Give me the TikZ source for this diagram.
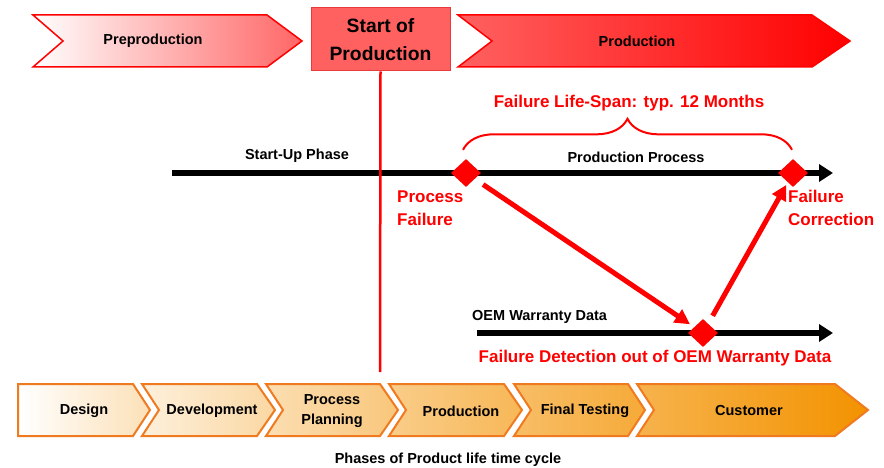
\documentclass[tikz,border=0pt]{standalone}
\usepackage{fontspec}
\setmainfont{Liberation Sans}
\usetikzlibrary{arrows.meta, shapes.geometric, decorations.pathreplacing, positioning}

\definecolor{failred}{RGB}{255,0,0}
\definecolor{sopred}{RGB}{255,96,96}
\definecolor{sopline}{RGB}{232,58,58}
\definecolor{phaseorange}{RGB}{243,146,0}
\definecolor{phaseline}{RGB}{240,122,32}

\tikzset{
  blacktext/.style={font=\bfseries\fontsize{14.5}{20}\selectfont, text=black, inner sep=0pt, align=center},
  redtext/.style={font=\bfseries\fontsize{17}{23}\selectfont, text=failred, inner sep=0pt, align=left},
  event/.style={diamond, fill=failred, inner sep=0pt, minimum width=30pt, minimum height=28pt},
  timeline/.style={line width=6pt, -{Triangle[length=14pt,width=17pt]}},
  failarrow/.style={failred, line width=5pt, -{Triangle[length=15pt,width=15pt]}},
  topphase/.style={draw=failred, line width=1.5pt},
  lowphase/.style={draw=phaseline, line width=2pt},
}

\begin{document}
\begin{tikzpicture}[x=1pt, y=-1pt]
    \useasboundingbox (0,0) rectangle (884,468);

    % upper phases
    \path[topphase, left color=white, right color=failred!60]
    (33,15) -- (267,15) -- (302,41) -- (267,67) -- (33,67) -- (63,41) -- cycle;
    \path[topphase, left color=failred!62, right color=failred]
    (458,15) -- (812,15) -- (850,41) -- (812,67) -- (458,67) -- (492,41) -- cycle;
    \node[blacktext] (prepro) at (153,41) {Preproduction};
    \node[blacktext] (prod) at (637,41) {Production};
    \node[draw=sopline, fill=sopred, line width=1pt, minimum width=139pt, minimum height=63pt,
      align=center, font=\bfseries\fontsize{19.3}{28}\selectfont] (sop) at (380.5,39.5) {Start of\\Production};

    % lower phases
    \path[lowphase, left color=white, right color=phaseorange!28]
    (18,384) -- (133,384) -- (150,410) -- (133,436) -- (18,436) -- cycle;
    \path[lowphase, left color=phaseorange!14, right color=phaseorange!36]
    (142,384) -- (257,384) -- (275,410) -- (257,436) -- (142,436) -- (159,410) -- cycle;
    \path[lowphase, left color=phaseorange!30, right color=phaseorange!52]
    (266,384) -- (380,384) -- (398,410) -- (380,436) -- (266,436) -- (283,410) -- cycle;
    \path[lowphase, left color=phaseorange!46, right color=phaseorange!66]
    (389,384) -- (504,384) -- (522,410) -- (504,436) -- (389,436) -- (406,410) -- cycle;
    \path[lowphase, left color=phaseorange!60, right color=phaseorange!78]
    (514,384) -- (628,384) -- (645,410) -- (628,436) -- (514,436) -- (531,410) -- cycle;
    \path[lowphase, left color=phaseorange!70, right color=phaseorange]
    (637,384) -- (835,384) -- (868,410) -- (835,436) -- (637,436) -- (654,410) -- cycle;
    \node[blacktext] (design) at (84,411) {Design};
    \node[blacktext] (devel) at (212,411) {Development};
    \node[blacktext] (planning) at (332,411) {Process\\Planning};
    \node[blacktext] (lowprod) at (461,411) {Production};
    \node[blacktext] (testing) at (585,411) {Final Testing};
    \node[blacktext] (customer) at (749,411) {Customer};
    \node[blacktext] (phases) at (448,460) {Phases of Product life time cycle};

    % time lines
    \coordinate (upstart) at (172,173);
    \coordinate (upend) at (833,173);
    \coordinate (oemstart) at (477,333);
    \coordinate (oemend) at (833,333);
    \coordinate (sopend) at (380,372);
    \draw[timeline] (upstart) -- (upend);
    \draw[timeline] (oemstart) -- (oemend);
    \draw[failred, line width=2.5pt] (sop.south) -- (sopend);

    \node[event] (pf) at (466,173) {};
    \node[event] (fc) at (793,173) {};
    \node[event] (fd) at (703,333) {};

    \draw[failarrow, shorten <=10pt, shorten >=5pt] (pf) -- (fd);
    \draw[failarrow, shorten <=9pt, shorten >=3pt] (fd) -- (fc);
    \draw[failred, line width=2pt, decorate, decoration={brace, amplitude=31pt}]
    ([yshift=9pt, xshift=-3pt]pf.north) -- ([yshift=9pt, xshift=-1pt]fc.north);

    % labels
    \node[blacktext] (startup) at (297,156) {Start-Up Phase};
    \node[blacktext] (prodproc) at (636,157) {Production Process};
    \node[blacktext, anchor=west] (oem) at (472,317) {OEM Warranty Data};
    \node[redtext] (span) at (629,103) {Failure Life-Span: typ. 12 Months};
    \node[redtext, anchor=west] (procfail) at (397,208) {Process\\Failure};
    \node[redtext, anchor=west] (failcorr) at (788,208) {Failure\\Correction};
    \node[redtext] (detect) at (655,358) {Failure Detection out of OEM Warranty Data};
\end{tikzpicture}
\end{document}
